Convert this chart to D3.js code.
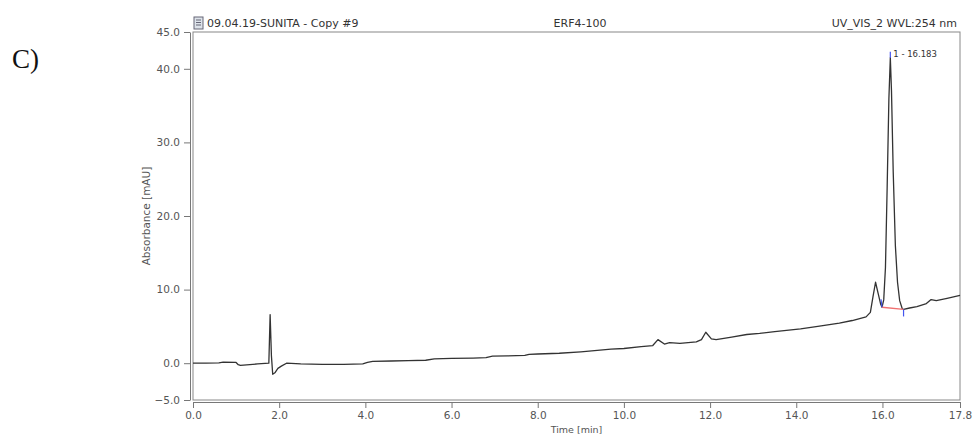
<!DOCTYPE html>
<html>
<head>
<meta charset="utf-8">
<script src="https://cdn.jsdelivr.net/npm/d3@7"></script>
<style>
  body { margin: 0; background: #fff; }
  svg { display: block; }
  .tick text { font-family: "DejaVu Sans", sans-serif; font-size: 10.5px; fill: #555; }
  .domain { stroke: #777; }
  .tick line { stroke: #777; }
</style>
</head>
<body>
<svg id="chart" width="973" height="435"></svg>
<script>
// chromatogram trace
const timeMin = [0, 0.3, 0.6, 0.7, 1.0, 1.05, 1.1, 1.5, 1.76, 1.79, 1.82, 1.85, 1.9, 1.97, 2.05, 2.17,
  2.5, 3.0, 3.5, 3.94, 4.05, 4.17, 4.6, 5.0, 5.4, 5.6, 6.0, 6.5, 6.8, 6.95, 7.3, 7.7, 7.8, 8.0,
  8.5, 9.0, 9.7, 10.0, 10.4, 10.67, 10.79, 10.94, 11.06, 11.3, 11.68, 11.8, 11.9, 12.03, 12.14,
  12.5, 12.85, 13.15, 13.5, 14.1, 14.5, 15.0, 15.3, 15.62, 15.72, 15.78, 15.84, 15.9, 15.96,
  15.99, 16.03, 16.07, 16.11, 16.15, 16.183, 16.21, 16.25, 16.3, 16.35, 16.4, 16.46, 16.49,
  16.63, 16.8, 17.02, 17.13, 17.25, 17.5, 17.8];
const absorbance = [0, 0, 0.05, 0.15, 0.1, -0.2, -0.3, -0.1, 0, 6.6, 1.0, -1.5, -1.3, -0.7, -0.4, 0,
  -0.1, -0.15, -0.15, -0.1, 0.1, 0.25, 0.3, 0.35, 0.4, 0.6, 0.65, 0.7, 0.75, 0.95, 1.0, 1.05, 1.2, 1.25,
  1.35, 1.55, 1.9, 2.0, 2.25, 2.4, 3.2, 2.6, 2.8, 2.7, 2.9, 3.2, 4.2, 3.3, 3.2,
  3.55, 3.9, 4.05, 4.3, 4.65, 5.0, 5.45, 5.8, 6.3, 6.9, 9.0, 11.0, 9.5, 8.0,
  7.6, 8.6, 13, 24, 36, 41.5, 37, 26, 16, 11, 8.5, 7.4, 7.3,
  7.5, 7.7, 8.1, 8.65, 8.5, 8.8, 9.2];

// integrated peak
const peakLabel = "1 - 16.183";
const peakTop = [16.183, 41.5];
const peakStart = [15.99, 7.6];
const peakEnd = [16.49, 7.3];

const xMajor = [0, 2, 4, 6, 8, 10, 12, 14, 16, 17.8];
const xMinor = d3.range(0, 17.8, 0.5);
const yMajor = [-5, 0, 10, 20, 30, 40, 45];
const yMinor = d3.range(-5, 45.1, 2.5);

const headerLeft = "09.04.19-SUNITA - Copy #9";
const headerMid = "ERF4-100";
const headerRight = "UV_VIS_2 WVL:254 nm";

const svg = d3.select("#chart");
const x = d3.scaleLinear().domain([0, 17.8]).range([193, 960]);
const y = d3.scaleLinear().domain([-5, 45]).range([400, 32]);

// panel letter
svg.append("text").attr("x", 12).attr("y", 68)
  .style("font-family", "'Liberation Serif', serif").style("font-size", "27px").style("fill", "#111")
  .text("C)");

// frame
svg.append("rect").attr("x", x(0)).attr("y", y(45))
  .attr("width", x(17.8) - x(0)).attr("height", y(-5) - y(45))
  .attr("fill", "none").attr("stroke", "#888");

// axes
const fmt = d3.format(".1f");
const yAxis = svg.append("g").attr("transform", "translate(190,0)");
yAxis.call(d3.axisLeft(y).tickValues(yMinor).tickSize(4).tickFormat("").tickSizeOuter(0));
yAxis.call(d3.axisLeft(y).tickValues(yMajor).tickSize(6).tickPadding(4).tickFormat(fmt).tickSizeOuter(0));

const xAxis = svg.append("g").attr("transform", "translate(0,402)");
xAxis.call(d3.axisBottom(x).tickValues(xMinor).tickSize(3).tickFormat("").tickSizeOuter(0));
xAxis.call(d3.axisBottom(x).tickValues(xMajor).tickSize(6).tickPadding(4).tickFormat(fmt).tickSizeOuter(0));
svg.selectAll(".domain").attr("stroke", "#777");

// axis titles
svg.append("text").attr("x", x(8.9)).attr("y", 433).attr("text-anchor", "middle")
  .style("font-family", "'DejaVu Sans', sans-serif").style("font-size", "9.5px").style("fill", "#555")
  .text("Time [min]");
svg.append("text").attr("transform", "translate(150,216) rotate(-90)").attr("text-anchor", "middle")
  .style("font-family", "'DejaVu Sans', sans-serif").style("font-size", "10.5px").style("fill", "#555")
  .text("Absorbance [mAU]");

// header
const hdr = svg.append("g").style("font-family", "'DejaVu Sans', sans-serif").style("font-size", "11px").style("fill", "#333");
hdr.append("text").attr("x", 207).attr("y", 27).text(headerLeft);
hdr.append("text").attr("x", 580).attr("y", 27).attr("text-anchor", "middle").text(headerMid);
hdr.append("text").attr("x", 957).attr("y", 27).attr("text-anchor", "end").text(headerRight);
// small document icon
const icon = svg.append("g").attr("transform", "translate(194,17)");
icon.append("rect").attr("width", 9).attr("height", 12).attr("fill", "#dde3ea").attr("stroke", "#667");
icon.selectAll("line").data([3, 5.5, 8]).enter().append("line")
  .attr("x1", 2).attr("x2", 7).attr("y1", d => d).attr("y2", d => d).attr("stroke", "#667");

// trace
const line = d3.line().x((d, i) => x(timeMin[i])).y(d => y(d));
svg.append("path").datum(absorbance).attr("d", line)
  .attr("fill", "none").attr("stroke", "#333").attr("stroke-width", 1.3).attr("stroke-linejoin", "round");

// baseline of the integrated peak
svg.append("line").attr("x1", x(peakStart[0])).attr("y1", y(peakStart[1]))
  .attr("x2", x(peakEnd[0])).attr("y2", y(peakEnd[1])).attr("stroke", "#f07070").attr("stroke-width", 1.3);
// peak markers
svg.append("line").attr("x1", x(peakStart[0]) - 1).attr("x2", x(peakStart[0]))
  .attr("y1", y(peakStart[1]) - 8).attr("y2", y(peakStart[1])).attr("stroke", "#4455ee").attr("stroke-width", 1.2);
svg.append("line").attr("x1", x(peakEnd[0])).attr("x2", x(peakEnd[0]))
  .attr("y1", y(peakEnd[1])).attr("y2", y(peakEnd[1]) + 7).attr("stroke", "#4455ee").attr("stroke-width", 1.2);
svg.append("line").attr("x1", x(peakTop[0])).attr("x2", x(peakTop[0]))
  .attr("y1", y(peakTop[1]) - 6).attr("y2", y(peakTop[1])).attr("stroke", "#4455ee").attr("stroke-width", 1.2);
svg.append("text").attr("x", x(peakTop[0]) + 3).attr("y", y(peakTop[1]) - 1)
  .style("font-family", "'DejaVu Sans', sans-serif").style("font-size", "8.5px").style("fill", "#333")
  .text(peakLabel);
</script>
</body>
</html>
